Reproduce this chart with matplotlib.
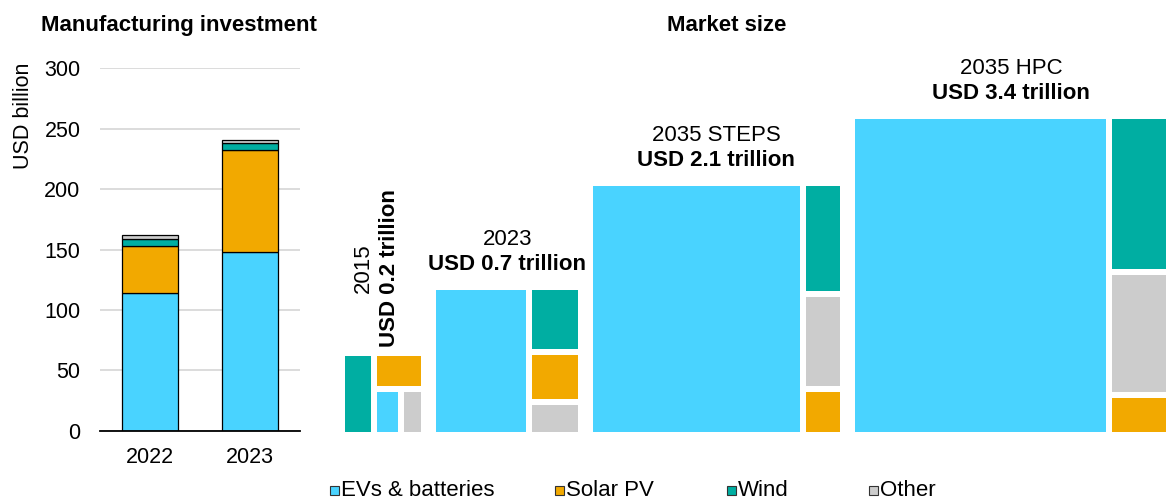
import matplotlib
matplotlib.use("Agg")
import matplotlib.pyplot as plt
from matplotlib.patches import Rectangle

plt.rcParams["font.family"] = ["Liberation Sans", "DejaVu Sans"]

# ---- data -------------------------------------------------------------
categories = ["EVs & batteries", "Solar PV", "Wind", "Other"]
colors = ["#49D3FF", "#F2A900", "#00AEA2", "#CCCCCC"]

# Manufacturing investment (USD billion)
inv_years = ["2022", "2023"]
inv_ev = [114, 148]
inv_solar = [39, 84]
inv_wind = [6, 6]
inv_other = [3, 3]

# Market size (USD trillion)
market_names = ["2015", "2023", "2035 STEPS", "2035 HPC"]
market_totals = [0.2, 0.7, 2.1, 3.4]
mkt_ev = [0.039, 0.46, 1.81, 2.78]
mkt_solar = [0.053, 0.08, 0.05, 0.07]
mkt_wind = [0.075, 0.11, 0.13, 0.31]
mkt_other = [0.033, 0.05, 0.11, 0.24]

# ---- figure -----------------------------------------------------------
W, H = 1166, 503
fig = plt.figure(figsize=(W / 100, H / 100), dpi=100)

# full-figure canvas in pixel units for the treemaps, titles and legend
cv = fig.add_axes([0, 0, 1, 1])
cv.set_xlim(0, W)
cv.set_ylim(H, 0)
cv.set_axis_off()

# ---- left panel: stacked bars -----------------------------------------
ax = fig.add_axes([100 / W, 1 - 430.7 / H, 200 / W, 362.4 / H])
x = list(range(len(inv_years)))
bottom = [0] * len(x)
for vals, col in zip([inv_ev, inv_solar, inv_wind, inv_other], colors):
    ax.bar(x, vals, width=0.56, bottom=bottom, color=col,
           edgecolor="black", linewidth=0.9, zorder=3)
    bottom = [b + v for b, v in zip(bottom, vals)]

ax.set_xlim(-0.5, 1.5)
ax.set_ylim(0, 300)
ax.set_yticks(range(0, 301, 50))
ax.set_xticks(x)
ax.set_xticklabels(inv_years)
ax.tick_params(axis="both", length=0, labelsize=15.5, colors="black")
ax.tick_params(axis="y", pad=14)
ax.tick_params(axis="x", pad=12)
ax.grid(axis="y", color="#D9D9D9", linewidth=1.3, zorder=0)
for side in ["left", "right", "top"]:
    ax.spines[side].set_visible(False)
ax.spines["bottom"].set_linewidth(1.3)
ax.spines["bottom"].set_zorder(4)

fig.text(24 / W, 1 - 115.6 / H, "USD billion", rotation=90,
         ha="center", va="center", fontsize=15.5)

cv.text(179, 30.7, "Manufacturing investment", ha="center",
        va="baseline", fontsize=16, fontweight="bold")
cv.text(727, 31, "Market size", ha="center", va="baseline",
        fontsize=16, fontweight="bold")

# ---- right panel: treemaps --------------------------------------------
GAP = 6
base_y = 432
x0 = 345
box_gap = 15
scale = 170  # px per sqrt(USD trillion)

# category index: 0 EV, 1 solar, 2 wind, 3 other
structures = [
    ("h", [2, ("v", [1, ("h", [0, 3])])]),
    ("h", [0, ("v", [2, 1, 3])]),
    ("h", [0, ("v", [2, 3, 1])]),
    ("h", [0, ("v", [2, 3, 1])]),
]


def node_sum(node, vals):
    if isinstance(node, int):
        return vals[node]
    return sum(node_sum(k, vals) for k in node[1])


def layout(node, vals, x, y, w, h, out):
    if isinstance(node, int):
        out.append((node, x, y, w, h))
        return
    d, kids = node
    sums = [node_sum(k, vals) for k in kids]
    tot = sum(sums)
    n = len(kids)
    if d == "h":
        avail = w - GAP * (n - 1)
        cx = x
        for k, s in zip(kids, sums):
            ww = avail * s / tot
            layout(k, vals, cx, y, ww, h, out)
            cx += ww + GAP
    else:
        avail = h - GAP * (n - 1)
        cy = y
        for k, s in zip(kids, sums):
            hh = avail * s / tot
            layout(k, vals, x, cy, w, hh, out)
            cy += hh + GAP


cx = x0
for i, name in enumerate(market_names):
    vals = [mkt_ev[i], mkt_solar[i], mkt_wind[i], mkt_other[i]]
    side = scale * market_totals[i] ** 0.5
    top = base_y - side
    cells = []
    layout(structures[i], vals, cx, top, side, side, cells)
    for cat, rx, ry, rw, rh in cells:
        cv.add_patch(Rectangle((rx, ry), rw, rh, facecolor=colors[cat],
                               edgecolor="none"))
    label = f"USD {market_totals[i]:g} trillion"
    mid = cx + side / 2
    if i == 0:
        yc = top - 10 - 78
        cv.text(mid - 20, yc, name, rotation=90, ha="center",
                va="center", fontsize=16)
        cv.text(mid + 6, yc, label, rotation=90, ha="center",
                va="center", fontsize=16, fontweight="bold")
    else:
        cv.text(mid, top - 45, name, ha="center", va="baseline",
                fontsize=16)
        cv.text(mid, top - 20, label, ha="center", va="baseline",
                fontsize=16, fontweight="bold")
    cx += side + box_gap

# ---- legend -----------------------------------------------------------
legend_x = [330, 555, 727, 869]
for lx, cat, col in zip(legend_x, categories, colors):
    cv.add_patch(Rectangle((lx, 486), 9, 9, facecolor=col,
                           edgecolor="#333333", linewidth=0.8))
    cv.text(lx + 11, 491, cat, ha="left", va="center", fontsize=16)

fig.savefig("out.png", dpi=100)
